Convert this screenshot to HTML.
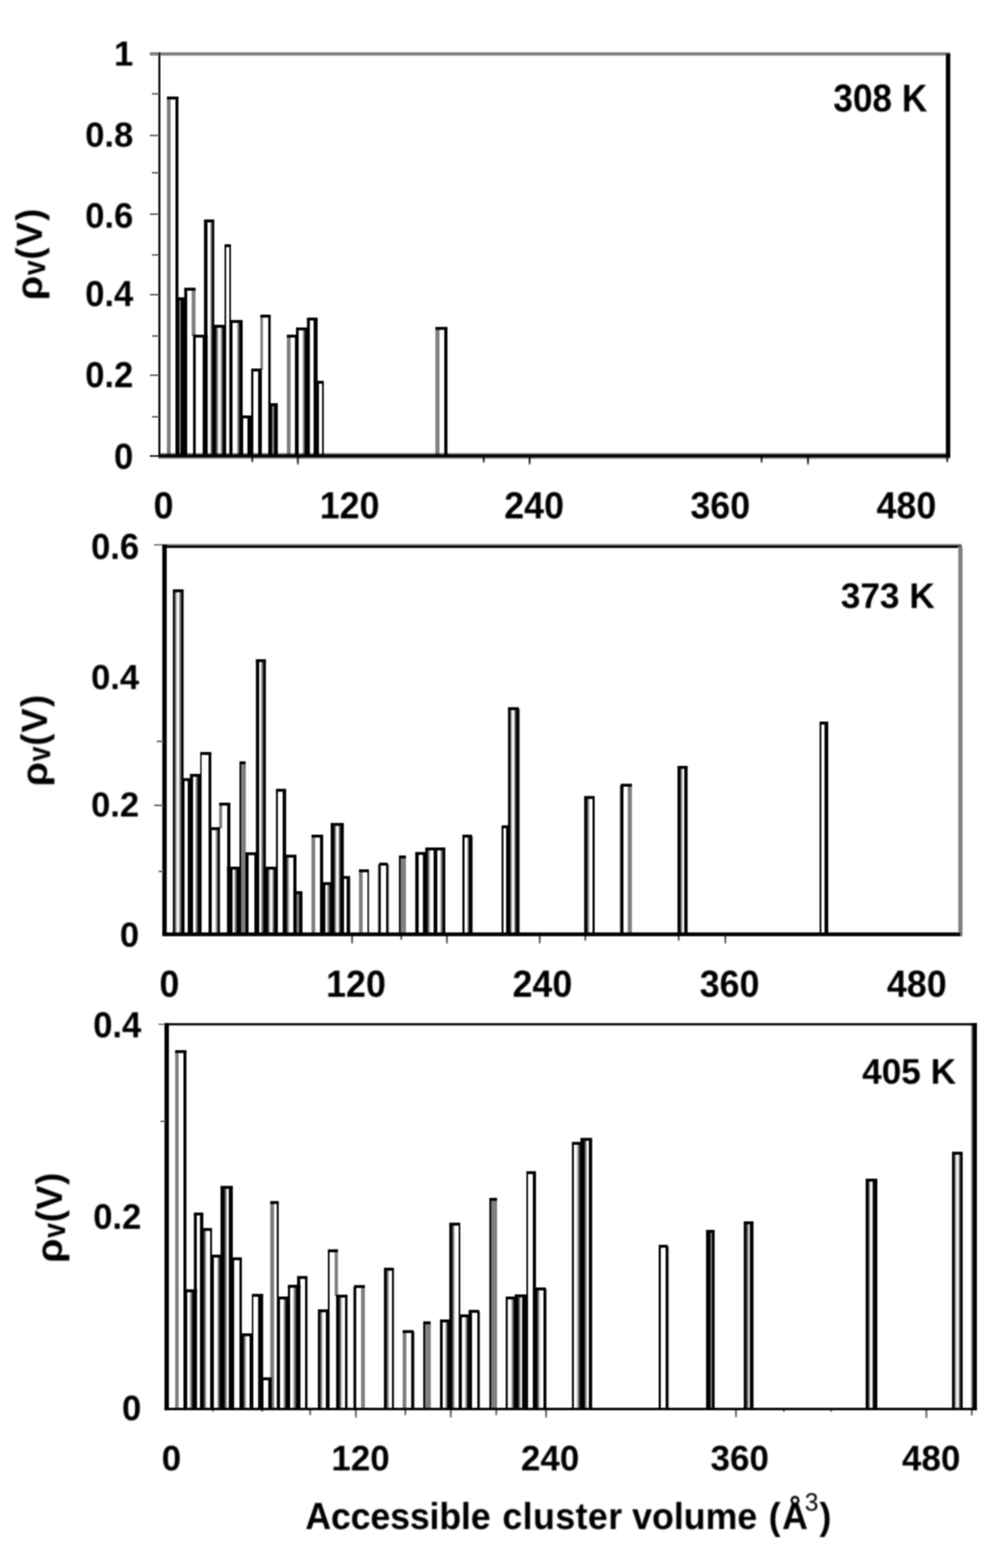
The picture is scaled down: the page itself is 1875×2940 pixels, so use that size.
<!DOCTYPE html>
<html lang="en">
<head>
<meta charset="utf-8">
<title>Accessible cluster volume distributions</title>
<style>
html,body{margin:0;padding:0;background:#fff;}
body{width:1875px;height:2940px;overflow:hidden;}
svg{display:block;}
text{font-family:"Liberation Sans",sans-serif;font-weight:bold;fill:#000;}
</style>
</head>
<body>
<svg width="1875" height="2940" viewBox="0 0 1875 2940">
<defs>
<filter id="soft" filterUnits="userSpaceOnUse" x="0" y="0" width="1875" height="2940"><feGaussianBlur stdDeviation="0.9"/></filter>
<filter id="softt" filterUnits="userSpaceOnUse" x="0" y="0" width="1875" height="2940"><feGaussianBlur stdDeviation="1.5"/></filter>
<linearGradient id="g1" gradientUnits="userSpaceOnUse" x1="312.9" y1="0" x2="334.6" y2="0"><stop offset="0" stop-color="#000" stop-opacity="0.5"/><stop offset="0.33" stop-color="#000" stop-opacity="0.5"/><stop offset="0.33" stop-color="#000" stop-opacity="0"/><stop offset="0.72" stop-color="#000" stop-opacity="0"/><stop offset="0.72" stop-color="#000" stop-opacity="1"/><stop offset="1" stop-color="#000" stop-opacity="1"/></linearGradient>
<linearGradient id="g2" gradientUnits="userSpaceOnUse" x1="329" y1="0" x2="350.3" y2="0"><stop offset="0" stop-color="#000" stop-opacity="1"/><stop offset="0.31" stop-color="#000" stop-opacity="1"/><stop offset="0.31" stop-color="#000" stop-opacity="0.5"/><stop offset="0.49" stop-color="#000" stop-opacity="0.5"/><stop offset="0.49" stop-color="#000" stop-opacity="1"/><stop offset="1" stop-color="#000" stop-opacity="1"/></linearGradient>
<linearGradient id="g3" gradientUnits="userSpaceOnUse" x1="345.5" y1="0" x2="366.6" y2="0"><stop offset="0" stop-color="#000" stop-opacity="1"/><stop offset="0.26" stop-color="#000" stop-opacity="1"/><stop offset="0.26" stop-color="#000" stop-opacity="0"/><stop offset="0.66" stop-color="#000" stop-opacity="0"/><stop offset="1" stop-color="#000" stop-opacity="0"/></linearGradient>
<linearGradient id="g4" gradientUnits="userSpaceOnUse" x1="362" y1="0" x2="389.4" y2="0"><stop offset="0" stop-color="#000" stop-opacity="1"/><stop offset="0.18" stop-color="#000" stop-opacity="1"/><stop offset="0.18" stop-color="#000" stop-opacity="0"/><stop offset="0.64" stop-color="#000" stop-opacity="0"/><stop offset="0.64" stop-color="#000" stop-opacity="1"/><stop offset="1" stop-color="#000" stop-opacity="1"/></linearGradient>
<linearGradient id="g5" gradientUnits="userSpaceOnUse" x1="382.5" y1="0" x2="401.75" y2="0"><stop offset="0" stop-color="#000" stop-opacity="1"/><stop offset="0.36" stop-color="#000" stop-opacity="1"/><stop offset="0.36" stop-color="#000" stop-opacity="0"/><stop offset="0.56" stop-color="#000" stop-opacity="0"/><stop offset="0.84" stop-color="#000" stop-opacity="1"/><stop offset="1" stop-color="#000" stop-opacity="1"/></linearGradient>
<linearGradient id="g6" gradientUnits="userSpaceOnUse" x1="398.75" y1="0" x2="423.75" y2="0"><stop offset="0" stop-color="#000" stop-opacity="1"/><stop offset="0.21" stop-color="#000" stop-opacity="1"/><stop offset="0.47" stop-color="#000" stop-opacity="0"/><stop offset="0.55" stop-color="#000" stop-opacity="0"/><stop offset="0.8" stop-color="#000" stop-opacity="1"/><stop offset="1" stop-color="#000" stop-opacity="1"/></linearGradient>
<linearGradient id="g7" gradientUnits="userSpaceOnUse" x1="421" y1="0" x2="433" y2="0"><stop offset="0" stop-color="#000" stop-opacity="1"/><stop offset="0.28" stop-color="#000" stop-opacity="1"/><stop offset="0.28" stop-color="#000" stop-opacity="0"/><stop offset="0.72" stop-color="#000" stop-opacity="0"/><stop offset="0.72" stop-color="#000" stop-opacity="1"/><stop offset="1" stop-color="#000" stop-opacity="1"/></linearGradient>
<linearGradient id="g8" gradientUnits="userSpaceOnUse" x1="430" y1="0" x2="455" y2="0"><stop offset="0" stop-color="#000" stop-opacity="1"/><stop offset="0.25" stop-color="#000" stop-opacity="1"/><stop offset="0.25" stop-color="#000" stop-opacity="0"/><stop offset="0.53" stop-color="#000" stop-opacity="0"/><stop offset="0.8" stop-color="#000" stop-opacity="1"/><stop offset="1" stop-color="#000" stop-opacity="1"/></linearGradient>
<linearGradient id="g9" gradientUnits="userSpaceOnUse" x1="452.5" y1="0" x2="474.4" y2="0"><stop offset="0" stop-color="#000" stop-opacity="1"/><stop offset="0.14" stop-color="#000" stop-opacity="1"/><stop offset="0.14" stop-color="#000" stop-opacity="0"/><stop offset="0.54" stop-color="#000" stop-opacity="0"/><stop offset="0.54" stop-color="#000" stop-opacity="1"/><stop offset="1" stop-color="#000" stop-opacity="1"/></linearGradient>
<linearGradient id="g10" gradientUnits="userSpaceOnUse" x1="471" y1="0" x2="491" y2="0"><stop offset="0" stop-color="#000" stop-opacity="1"/><stop offset="0.18" stop-color="#000" stop-opacity="1"/><stop offset="0.18" stop-color="#000" stop-opacity="0"/><stop offset="0.66" stop-color="#000" stop-opacity="0"/><stop offset="0.66" stop-color="#000" stop-opacity="1"/><stop offset="1" stop-color="#000" stop-opacity="1"/></linearGradient>
<linearGradient id="g11" gradientUnits="userSpaceOnUse" x1="488.15" y1="0" x2="507.5" y2="0"><stop offset="0" stop-color="#000" stop-opacity="0"/><stop offset="0.26" stop-color="#000" stop-opacity="0"/><stop offset="0.75" stop-color="#000" stop-opacity="0"/><stop offset="0.75" stop-color="#000" stop-opacity="1"/><stop offset="1" stop-color="#000" stop-opacity="1"/></linearGradient>
<linearGradient id="g12" gradientUnits="userSpaceOnUse" x1="505.5" y1="0" x2="520.9" y2="0"><stop offset="0" stop-color="#000" stop-opacity="1"/><stop offset="0.29" stop-color="#000" stop-opacity="1"/><stop offset="0.29" stop-color="#000" stop-opacity="0.5"/><stop offset="0.55" stop-color="#000" stop-opacity="0.5"/><stop offset="0.55" stop-color="#000" stop-opacity="1"/><stop offset="1" stop-color="#000" stop-opacity="1"/></linearGradient>
<linearGradient id="g13" gradientUnits="userSpaceOnUse" x1="537.8" y1="0" x2="558.75" y2="0"><stop offset="0" stop-color="#000" stop-opacity="0.5"/><stop offset="0.32" stop-color="#000" stop-opacity="0.5"/><stop offset="0.32" stop-color="#000" stop-opacity="0"/><stop offset="0.74" stop-color="#000" stop-opacity="0"/><stop offset="0.74" stop-color="#000" stop-opacity="1"/><stop offset="1" stop-color="#000" stop-opacity="1"/></linearGradient>
<linearGradient id="g14" gradientUnits="userSpaceOnUse" x1="555" y1="0" x2="580.25" y2="0"><stop offset="0" stop-color="#000" stop-opacity="1"/><stop offset="0.19" stop-color="#000" stop-opacity="1"/><stop offset="0.19" stop-color="#000" stop-opacity="0"/><stop offset="0.45" stop-color="#000" stop-opacity="0"/><stop offset="0.7" stop-color="#000" stop-opacity="1"/><stop offset="1" stop-color="#000" stop-opacity="1"/></linearGradient>
<linearGradient id="g15" gradientUnits="userSpaceOnUse" x1="575.5" y1="0" x2="595.5" y2="0"><stop offset="0" stop-color="#000" stop-opacity="1"/><stop offset="0.28" stop-color="#000" stop-opacity="1"/><stop offset="0.28" stop-color="#000" stop-opacity="0"/><stop offset="0.64" stop-color="#000" stop-opacity="0"/><stop offset="0.64" stop-color="#000" stop-opacity="1"/><stop offset="1" stop-color="#000" stop-opacity="1"/></linearGradient>
<linearGradient id="g16" gradientUnits="userSpaceOnUse" x1="592.5" y1="0" x2="607.1" y2="0"><stop offset="0" stop-color="#000" stop-opacity="1"/><stop offset="0.41" stop-color="#000" stop-opacity="1"/><stop offset="0.41" stop-color="#000" stop-opacity="0"/><stop offset="0.77" stop-color="#000" stop-opacity="0"/><stop offset="0.77" stop-color="#000" stop-opacity="1"/><stop offset="1" stop-color="#000" stop-opacity="1"/></linearGradient>
<linearGradient id="g17" gradientUnits="userSpaceOnUse" x1="816.4" y1="0" x2="839" y2="0"><stop offset="0" stop-color="#000" stop-opacity="0.5"/><stop offset="0.34" stop-color="#000" stop-opacity="0.5"/><stop offset="0.34" stop-color="#000" stop-opacity="0"/><stop offset="0.72" stop-color="#000" stop-opacity="0"/><stop offset="0.72" stop-color="#000" stop-opacity="1"/><stop offset="1" stop-color="#000" stop-opacity="1"/></linearGradient>
<linearGradient id="g18" gradientUnits="userSpaceOnUse" x1="0" y1="848.3" x2="0" y2="861.4"><stop offset="0" stop-color="#000" stop-opacity="0"/><stop offset="0.37" stop-color="#000" stop-opacity="1"/><stop offset="0.61" stop-color="#000" stop-opacity="1"/><stop offset="1" stop-color="#000" stop-opacity="0"/></linearGradient>
<linearGradient id="g19" gradientUnits="userSpaceOnUse" x1="0" y1="856" x2="0" y2="868"><stop offset="0" stop-color="#000" stop-opacity="0.85"/><stop offset="0.7" stop-color="#000" stop-opacity="0.75"/><stop offset="1" stop-color="#000" stop-opacity="0"/></linearGradient>
<linearGradient id="g20" gradientUnits="userSpaceOnUse" x1="0" y1="856" x2="0" y2="873"><stop offset="0" stop-color="#000" stop-opacity="0.85"/><stop offset="0.7" stop-color="#000" stop-opacity="0.75"/><stop offset="1" stop-color="#000" stop-opacity="0"/></linearGradient>
<linearGradient id="g21" gradientUnits="userSpaceOnUse" x1="0" y1="856" x2="0" y2="869"><stop offset="0" stop-color="#000" stop-opacity="0.85"/><stop offset="0.7" stop-color="#000" stop-opacity="0.75"/><stop offset="1" stop-color="#000" stop-opacity="0"/></linearGradient>
<linearGradient id="g22" gradientUnits="userSpaceOnUse" x1="0" y1="856" x2="0" y2="873"><stop offset="0" stop-color="#000" stop-opacity="0.85"/><stop offset="0.7" stop-color="#000" stop-opacity="0.75"/><stop offset="1" stop-color="#000" stop-opacity="0"/></linearGradient>
<linearGradient id="g23" gradientUnits="userSpaceOnUse" x1="0" y1="856" x2="0" y2="869"><stop offset="0" stop-color="#000" stop-opacity="0.85"/><stop offset="0.7" stop-color="#000" stop-opacity="0.75"/><stop offset="1" stop-color="#000" stop-opacity="0"/></linearGradient>
<linearGradient id="g24" gradientUnits="userSpaceOnUse" x1="0" y1="856" x2="0" y2="873"><stop offset="0" stop-color="#000" stop-opacity="0.85"/><stop offset="0.7" stop-color="#000" stop-opacity="0.75"/><stop offset="1" stop-color="#000" stop-opacity="0"/></linearGradient>
<linearGradient id="g25" gradientUnits="userSpaceOnUse" x1="0" y1="856" x2="0" y2="868"><stop offset="0" stop-color="#000" stop-opacity="0.85"/><stop offset="0.7" stop-color="#000" stop-opacity="0.75"/><stop offset="1" stop-color="#000" stop-opacity="0"/></linearGradient>
<linearGradient id="g26" gradientUnits="userSpaceOnUse" x1="324.1" y1="0" x2="344.2" y2="0"><stop offset="0" stop-color="#000" stop-opacity="1"/><stop offset="0.1" stop-color="#000" stop-opacity="1"/><stop offset="0.42" stop-color="#000" stop-opacity="0"/><stop offset="0.51" stop-color="#000" stop-opacity="0"/><stop offset="0.86" stop-color="#000" stop-opacity="1"/><stop offset="1" stop-color="#000" stop-opacity="1"/></linearGradient>
<linearGradient id="g27" gradientUnits="userSpaceOnUse" x1="341" y1="0" x2="361.9" y2="0"><stop offset="0" stop-color="#000" stop-opacity="1"/><stop offset="0.24" stop-color="#000" stop-opacity="1"/><stop offset="0.24" stop-color="#000" stop-opacity="0"/><stop offset="0.54" stop-color="#000" stop-opacity="0"/><stop offset="0.54" stop-color="#000" stop-opacity="1"/><stop offset="1" stop-color="#000" stop-opacity="1"/></linearGradient>
<linearGradient id="g28" gradientUnits="userSpaceOnUse" x1="356" y1="0" x2="377.5" y2="0"><stop offset="0" stop-color="#000" stop-opacity="1"/><stop offset="0.28" stop-color="#000" stop-opacity="1"/><stop offset="0.28" stop-color="#000" stop-opacity="0"/><stop offset="0.43" stop-color="#000" stop-opacity="0"/><stop offset="0.74" stop-color="#000" stop-opacity="1"/><stop offset="1" stop-color="#000" stop-opacity="1"/></linearGradient>
<linearGradient id="g29" gradientUnits="userSpaceOnUse" x1="375.5" y1="0" x2="396.25" y2="0"><stop offset="0" stop-color="#000" stop-opacity="1"/><stop offset="0.12" stop-color="#000" stop-opacity="1"/><stop offset="0.12" stop-color="#000" stop-opacity="0"/><stop offset="0.73" stop-color="#000" stop-opacity="0"/><stop offset="0.73" stop-color="#000" stop-opacity="1"/><stop offset="1" stop-color="#000" stop-opacity="1"/></linearGradient>
<linearGradient id="g30" gradientUnits="userSpaceOnUse" x1="392.25" y1="0" x2="412.5" y2="0"><stop offset="0" stop-color="#000" stop-opacity="1"/><stop offset="0.22" stop-color="#000" stop-opacity="1"/><stop offset="0.22" stop-color="#000" stop-opacity="0"/><stop offset="0.53" stop-color="#000" stop-opacity="0"/><stop offset="0.88" stop-color="#000" stop-opacity="1"/><stop offset="1" stop-color="#000" stop-opacity="1"/></linearGradient>
<linearGradient id="g31" gradientUnits="userSpaceOnUse" x1="410.9" y1="0" x2="432" y2="0"><stop offset="0" stop-color="#000" stop-opacity="0"/><stop offset="0.27" stop-color="#000" stop-opacity="0"/><stop offset="0.71" stop-color="#000" stop-opacity="0"/><stop offset="0.71" stop-color="#000" stop-opacity="1"/><stop offset="1" stop-color="#000" stop-opacity="1"/></linearGradient>
<linearGradient id="g32" gradientUnits="userSpaceOnUse" x1="425.6" y1="0" x2="451.25" y2="0"><stop offset="0" stop-color="#000" stop-opacity="1"/><stop offset="0.39" stop-color="#000" stop-opacity="1"/><stop offset="0.39" stop-color="#000" stop-opacity="0"/><stop offset="0.49" stop-color="#000" stop-opacity="0"/><stop offset="0.76" stop-color="#000" stop-opacity="1"/><stop offset="1" stop-color="#000" stop-opacity="1"/></linearGradient>
<linearGradient id="g33" gradientUnits="userSpaceOnUse" x1="449" y1="0" x2="460.5" y2="0"><stop offset="0" stop-color="#000" stop-opacity="1"/><stop offset="0.26" stop-color="#000" stop-opacity="1"/><stop offset="0.26" stop-color="#000" stop-opacity="0.5"/><stop offset="0.99" stop-color="#000" stop-opacity="0.5"/><stop offset="0.99" stop-color="#000" stop-opacity="1"/><stop offset="1" stop-color="#000" stop-opacity="1"/></linearGradient>
<linearGradient id="g34" gradientUnits="userSpaceOnUse" x1="460.2" y1="0" x2="485.7" y2="0"><stop offset="0" stop-color="#000" stop-opacity="1"/><stop offset="0.24" stop-color="#000" stop-opacity="1"/><stop offset="0.24" stop-color="#000" stop-opacity="0"/><stop offset="0.65" stop-color="#000" stop-opacity="0"/><stop offset="0.65" stop-color="#000" stop-opacity="1"/><stop offset="1" stop-color="#000" stop-opacity="1"/></linearGradient>
<linearGradient id="g35" gradientUnits="userSpaceOnUse" x1="479.75" y1="0" x2="498.5" y2="0"><stop offset="0" stop-color="#000" stop-opacity="1"/><stop offset="0.33" stop-color="#000" stop-opacity="1"/><stop offset="0.33" stop-color="#000" stop-opacity="0"/><stop offset="0.45" stop-color="#000" stop-opacity="0"/><stop offset="0.81" stop-color="#000" stop-opacity="1"/><stop offset="1" stop-color="#000" stop-opacity="1"/></linearGradient>
<linearGradient id="g36" gradientUnits="userSpaceOnUse" x1="495.25" y1="0" x2="520.9" y2="0"><stop offset="0" stop-color="#000" stop-opacity="1"/><stop offset="0.24" stop-color="#000" stop-opacity="1"/><stop offset="0.47" stop-color="#000" stop-opacity="0"/><stop offset="0.55" stop-color="#000" stop-opacity="0"/><stop offset="0.77" stop-color="#000" stop-opacity="1"/><stop offset="1" stop-color="#000" stop-opacity="1"/></linearGradient>
<linearGradient id="g37" gradientUnits="userSpaceOnUse" x1="517.5" y1="0" x2="536.5" y2="0"><stop offset="0" stop-color="#000" stop-opacity="1"/><stop offset="0.2" stop-color="#000" stop-opacity="1"/><stop offset="0.2" stop-color="#000" stop-opacity="0"/><stop offset="0.67" stop-color="#000" stop-opacity="0"/><stop offset="0.67" stop-color="#000" stop-opacity="1"/><stop offset="1" stop-color="#000" stop-opacity="1"/></linearGradient>
<linearGradient id="g38" gradientUnits="userSpaceOnUse" x1="534.75" y1="0" x2="555.9" y2="0"><stop offset="0" stop-color="#000" stop-opacity="1"/><stop offset="0.08" stop-color="#000" stop-opacity="1"/><stop offset="0.4" stop-color="#000" stop-opacity="0"/><stop offset="0.7" stop-color="#000" stop-opacity="0"/><stop offset="0.7" stop-color="#000" stop-opacity="1"/><stop offset="1" stop-color="#000" stop-opacity="1"/></linearGradient>
<linearGradient id="g39" gradientUnits="userSpaceOnUse" x1="552.5" y1="0" x2="567.1" y2="0"><stop offset="0" stop-color="#000" stop-opacity="1"/><stop offset="0.26" stop-color="#000" stop-opacity="1"/><stop offset="0.26" stop-color="#000" stop-opacity="0.5"/><stop offset="0.56" stop-color="#000" stop-opacity="0.5"/><stop offset="0.56" stop-color="#000" stop-opacity="1"/><stop offset="1" stop-color="#000" stop-opacity="1"/></linearGradient>
<linearGradient id="g40" gradientUnits="userSpaceOnUse" x1="584" y1="0" x2="606" y2="0"><stop offset="0" stop-color="#000" stop-opacity="0.5"/><stop offset="0.34" stop-color="#000" stop-opacity="0.5"/><stop offset="0.34" stop-color="#000" stop-opacity="0"/><stop offset="0.71" stop-color="#000" stop-opacity="0"/><stop offset="0.71" stop-color="#000" stop-opacity="1"/><stop offset="1" stop-color="#000" stop-opacity="1"/></linearGradient>
<linearGradient id="g41" gradientUnits="userSpaceOnUse" x1="601.5" y1="0" x2="621.5" y2="0"><stop offset="0" stop-color="#000" stop-opacity="1"/><stop offset="0.41" stop-color="#000" stop-opacity="1"/><stop offset="0.41" stop-color="#000" stop-opacity="0"/><stop offset="0.52" stop-color="#000" stop-opacity="0"/><stop offset="0.91" stop-color="#000" stop-opacity="1"/><stop offset="1" stop-color="#000" stop-opacity="1"/></linearGradient>
<linearGradient id="g42" gradientUnits="userSpaceOnUse" x1="620" y1="0" x2="644.6" y2="0"><stop offset="0" stop-color="#000" stop-opacity="1"/><stop offset="0.24" stop-color="#000" stop-opacity="1"/><stop offset="0.47" stop-color="#000" stop-opacity="0"/><stop offset="0.55" stop-color="#000" stop-opacity="0"/><stop offset="0.77" stop-color="#000" stop-opacity="1"/><stop offset="1" stop-color="#000" stop-opacity="1"/></linearGradient>
<linearGradient id="g43" gradientUnits="userSpaceOnUse" x1="642.25" y1="0" x2="656.5" y2="0"><stop offset="0" stop-color="#000" stop-opacity="1"/><stop offset="0.2" stop-color="#000" stop-opacity="1"/><stop offset="0.2" stop-color="#000" stop-opacity="0"/><stop offset="0.56" stop-color="#000" stop-opacity="0"/><stop offset="0.56" stop-color="#000" stop-opacity="1"/><stop offset="1" stop-color="#000" stop-opacity="1"/></linearGradient>
<linearGradient id="g44" gradientUnits="userSpaceOnUse" x1="673" y1="0" x2="691.75" y2="0"><stop offset="0" stop-color="#000" stop-opacity="0.5"/><stop offset="0.4" stop-color="#000" stop-opacity="0.5"/><stop offset="0.4" stop-color="#000" stop-opacity="0"/><stop offset="0.85" stop-color="#000" stop-opacity="0"/><stop offset="0.85" stop-color="#000" stop-opacity="1"/><stop offset="1" stop-color="#000" stop-opacity="1"/></linearGradient>
<linearGradient id="g45" gradientUnits="userSpaceOnUse" x1="707.5" y1="0" x2="730.45" y2="0"><stop offset="0" stop-color="#000" stop-opacity="0"/><stop offset="0.15" stop-color="#000" stop-opacity="1"/><stop offset="0.29" stop-color="#000" stop-opacity="1"/><stop offset="0.29" stop-color="#000" stop-opacity="0"/><stop offset="0.72" stop-color="#000" stop-opacity="0"/><stop offset="0.72" stop-color="#000" stop-opacity="1"/><stop offset="0.84" stop-color="#000" stop-opacity="1"/><stop offset="1" stop-color="#000" stop-opacity="0"/></linearGradient>
<linearGradient id="g46" gradientUnits="userSpaceOnUse" x1="748" y1="0" x2="761.1" y2="0"><stop offset="0" stop-color="#000" stop-opacity="1"/><stop offset="0.24" stop-color="#000" stop-opacity="1"/><stop offset="0.24" stop-color="#000" stop-opacity="0.5"/><stop offset="0.99" stop-color="#000" stop-opacity="0.5"/><stop offset="0.99" stop-color="#000" stop-opacity="1"/><stop offset="1" stop-color="#000" stop-opacity="1"/></linearGradient>
<linearGradient id="g47" gradientUnits="userSpaceOnUse" x1="778.6" y1="0" x2="800.5" y2="0"><stop offset="0" stop-color="#000" stop-opacity="1"/><stop offset="0.29" stop-color="#000" stop-opacity="1"/><stop offset="0.29" stop-color="#000" stop-opacity="0"/><stop offset="0.68" stop-color="#000" stop-opacity="0"/><stop offset="0.68" stop-color="#000" stop-opacity="1"/><stop offset="1" stop-color="#000" stop-opacity="1"/></linearGradient>
<linearGradient id="g48" gradientUnits="userSpaceOnUse" x1="797.5" y1="0" x2="819.25" y2="0"><stop offset="0" stop-color="#000" stop-opacity="1"/><stop offset="0.14" stop-color="#000" stop-opacity="1"/><stop offset="0.45" stop-color="#000" stop-opacity="0"/><stop offset="0.71" stop-color="#000" stop-opacity="0"/><stop offset="0.71" stop-color="#000" stop-opacity="1"/><stop offset="1" stop-color="#000" stop-opacity="1"/></linearGradient>
<linearGradient id="g49" gradientUnits="userSpaceOnUse" x1="816" y1="0" x2="834.9" y2="0"><stop offset="0" stop-color="#000" stop-opacity="1"/><stop offset="0.19" stop-color="#000" stop-opacity="1"/><stop offset="0.19" stop-color="#000" stop-opacity="0"/><stop offset="0.45" stop-color="#000" stop-opacity="0"/><stop offset="0.8" stop-color="#000" stop-opacity="1"/><stop offset="1" stop-color="#000" stop-opacity="1"/></linearGradient>
<linearGradient id="g50" gradientUnits="userSpaceOnUse" x1="867" y1="0" x2="887" y2="0"><stop offset="0" stop-color="#000" stop-opacity="1"/><stop offset="0.19" stop-color="#000" stop-opacity="1"/><stop offset="0.19" stop-color="#000" stop-opacity="0"/><stop offset="0.42" stop-color="#000" stop-opacity="0"/><stop offset="0.65" stop-color="#000" stop-opacity="1"/><stop offset="0.9" stop-color="#000" stop-opacity="1"/><stop offset="1" stop-color="#000" stop-opacity="0"/></linearGradient>
<linearGradient id="g51" gradientUnits="userSpaceOnUse" x1="940.5" y1="0" x2="954.5" y2="0"><stop offset="0" stop-color="#000" stop-opacity="1"/><stop offset="0.24" stop-color="#000" stop-opacity="1"/><stop offset="0.24" stop-color="#000" stop-opacity="0"/><stop offset="0.61" stop-color="#000" stop-opacity="0"/><stop offset="0.61" stop-color="#000" stop-opacity="1"/><stop offset="1" stop-color="#000" stop-opacity="1"/></linearGradient>
<linearGradient id="g52" gradientUnits="userSpaceOnUse" x1="952.5" y1="0" x2="975.6" y2="0"><stop offset="0" stop-color="#000" stop-opacity="1"/><stop offset="0.13" stop-color="#000" stop-opacity="1"/><stop offset="0.36" stop-color="#000" stop-opacity="0"/><stop offset="0.45" stop-color="#000" stop-opacity="0"/><stop offset="0.68" stop-color="#000" stop-opacity="1"/><stop offset="0.87" stop-color="#000" stop-opacity="1"/><stop offset="1" stop-color="#000" stop-opacity="0"/></linearGradient>
<linearGradient id="g53" gradientUnits="userSpaceOnUse" x1="1095.3" y1="0" x2="1115" y2="0"><stop offset="0" stop-color="#000" stop-opacity="1"/><stop offset="0.22" stop-color="#000" stop-opacity="1"/><stop offset="0.55" stop-color="#000" stop-opacity="0"/><stop offset="0.78" stop-color="#000" stop-opacity="0"/><stop offset="0.78" stop-color="#000" stop-opacity="1"/><stop offset="1" stop-color="#000" stop-opacity="1"/></linearGradient>
<linearGradient id="g54" gradientUnits="userSpaceOnUse" x1="1161.4" y1="0" x2="1184.9" y2="0"><stop offset="0" stop-color="#000" stop-opacity="0"/><stop offset="0.11" stop-color="#000" stop-opacity="1"/><stop offset="0.32" stop-color="#000" stop-opacity="1"/><stop offset="0.32" stop-color="#000" stop-opacity="0"/><stop offset="0.67" stop-color="#000" stop-opacity="0"/><stop offset="0.67" stop-color="#000" stop-opacity="0.5"/><stop offset="1" stop-color="#000" stop-opacity="0.5"/></linearGradient>
<linearGradient id="g55" gradientUnits="userSpaceOnUse" x1="1270.3" y1="0" x2="1289.3" y2="0"><stop offset="0" stop-color="#000" stop-opacity="1"/><stop offset="0.23" stop-color="#000" stop-opacity="1"/><stop offset="0.54" stop-color="#000" stop-opacity="0"/><stop offset="0.64" stop-color="#000" stop-opacity="0"/><stop offset="0.69" stop-color="#000" stop-opacity="1"/><stop offset="1" stop-color="#000" stop-opacity="1"/></linearGradient>
<linearGradient id="g56" gradientUnits="userSpaceOnUse" x1="1536.75" y1="0" x2="1553" y2="0"><stop offset="0" stop-color="#000" stop-opacity="1"/><stop offset="0.23" stop-color="#000" stop-opacity="1"/><stop offset="0.23" stop-color="#000" stop-opacity="0"/><stop offset="0.54" stop-color="#000" stop-opacity="0"/><stop offset="0.54" stop-color="#000" stop-opacity="1"/><stop offset="1" stop-color="#000" stop-opacity="1"/></linearGradient>
<linearGradient id="g57" gradientUnits="userSpaceOnUse" x1="0" y1="1018.8" x2="0" y2="1027.4"><stop offset="0" stop-color="#000" stop-opacity="0"/><stop offset="0.64" stop-color="#000" stop-opacity="1"/><stop offset="1" stop-color="#000" stop-opacity="1"/></linearGradient>
<linearGradient id="g58" gradientUnits="userSpaceOnUse" x1="0" y1="1755" x2="0" y2="1771"><stop offset="0" stop-color="#000" stop-opacity="0.7"/><stop offset="0.75" stop-color="#000" stop-opacity="0.6"/><stop offset="1" stop-color="#000" stop-opacity="0"/></linearGradient>
<linearGradient id="g59" gradientUnits="userSpaceOnUse" x1="0" y1="1755" x2="0" y2="1763"><stop offset="0" stop-color="#000" stop-opacity="0.7"/><stop offset="0.75" stop-color="#000" stop-opacity="0.6"/><stop offset="1" stop-color="#000" stop-opacity="0"/></linearGradient>
<linearGradient id="g60" gradientUnits="userSpaceOnUse" x1="0" y1="1755" x2="0" y2="1771"><stop offset="0" stop-color="#000" stop-opacity="0.7"/><stop offset="0.75" stop-color="#000" stop-opacity="0.6"/><stop offset="1" stop-color="#000" stop-opacity="0"/></linearGradient>
<linearGradient id="g61" gradientUnits="userSpaceOnUse" x1="0" y1="1755" x2="0" y2="1771"><stop offset="0" stop-color="#000" stop-opacity="0.7"/><stop offset="0.75" stop-color="#000" stop-opacity="0.6"/><stop offset="1" stop-color="#000" stop-opacity="0"/></linearGradient>
<linearGradient id="g62" gradientUnits="userSpaceOnUse" x1="0" y1="1755" x2="0" y2="1765"><stop offset="0" stop-color="#000" stop-opacity="0.7"/><stop offset="0.75" stop-color="#000" stop-opacity="0.6"/><stop offset="1" stop-color="#000" stop-opacity="0"/></linearGradient>
<linearGradient id="g63" gradientUnits="userSpaceOnUse" x1="0" y1="1755" x2="0" y2="1765"><stop offset="0" stop-color="#000" stop-opacity="0.7"/><stop offset="0.75" stop-color="#000" stop-opacity="0.6"/><stop offset="1" stop-color="#000" stop-opacity="0"/></linearGradient>
<linearGradient id="g64" gradientUnits="userSpaceOnUse" x1="0" y1="1755" x2="0" y2="1771"><stop offset="0" stop-color="#000" stop-opacity="0.7"/><stop offset="0.75" stop-color="#000" stop-opacity="0.6"/><stop offset="1" stop-color="#000" stop-opacity="0"/></linearGradient>
<linearGradient id="g65" gradientUnits="userSpaceOnUse" x1="328.4" y1="0" x2="349.6" y2="0"><stop offset="0" stop-color="#000" stop-opacity="0.5"/><stop offset="0.31" stop-color="#000" stop-opacity="0.5"/><stop offset="0.31" stop-color="#000" stop-opacity="0"/><stop offset="0.75" stop-color="#000" stop-opacity="0"/><stop offset="0.75" stop-color="#000" stop-opacity="1"/><stop offset="1" stop-color="#000" stop-opacity="1"/></linearGradient>
<linearGradient id="g66" gradientUnits="userSpaceOnUse" x1="344.4" y1="0" x2="369.4" y2="0"><stop offset="0" stop-color="#000" stop-opacity="1"/><stop offset="0.25" stop-color="#000" stop-opacity="1"/><stop offset="0.25" stop-color="#000" stop-opacity="0"/><stop offset="0.42" stop-color="#000" stop-opacity="0"/><stop offset="0.7" stop-color="#000" stop-opacity="1"/><stop offset="1" stop-color="#000" stop-opacity="1"/></linearGradient>
<linearGradient id="g67" gradientUnits="userSpaceOnUse" x1="363.5" y1="0" x2="381.25" y2="0"><stop offset="0" stop-color="#000" stop-opacity="1"/><stop offset="0.33" stop-color="#000" stop-opacity="1"/><stop offset="0.33" stop-color="#000" stop-opacity="0"/><stop offset="0.65" stop-color="#000" stop-opacity="0"/><stop offset="0.65" stop-color="#000" stop-opacity="1"/><stop offset="1" stop-color="#000" stop-opacity="1"/></linearGradient>
<linearGradient id="g68" gradientUnits="userSpaceOnUse" x1="376" y1="0" x2="397.5" y2="0"><stop offset="0" stop-color="#000" stop-opacity="1"/><stop offset="0.24" stop-color="#000" stop-opacity="1"/><stop offset="0.56" stop-color="#000" stop-opacity="0"/><stop offset="0.83" stop-color="#000" stop-opacity="0"/><stop offset="0.83" stop-color="#000" stop-opacity="1"/><stop offset="1" stop-color="#000" stop-opacity="1"/></linearGradient>
<linearGradient id="g69" gradientUnits="userSpaceOnUse" x1="395.5" y1="0" x2="420" y2="0"><stop offset="0" stop-color="#000" stop-opacity="1"/><stop offset="0.21" stop-color="#000" stop-opacity="1"/><stop offset="0.21" stop-color="#000" stop-opacity="0"/><stop offset="0.45" stop-color="#000" stop-opacity="0"/><stop offset="0.71" stop-color="#000" stop-opacity="1"/><stop offset="1" stop-color="#000" stop-opacity="1"/></linearGradient>
<linearGradient id="g70" gradientUnits="userSpaceOnUse" x1="413.5" y1="0" x2="436.5" y2="0"><stop offset="0" stop-color="#000" stop-opacity="1"/><stop offset="0.28" stop-color="#000" stop-opacity="1"/><stop offset="0.58" stop-color="#000" stop-opacity="0"/><stop offset="0.66" stop-color="#000" stop-opacity="0"/><stop offset="0.66" stop-color="#000" stop-opacity="1"/><stop offset="1" stop-color="#000" stop-opacity="1"/></linearGradient>
<linearGradient id="g71" gradientUnits="userSpaceOnUse" x1="431" y1="0" x2="453.5" y2="0"><stop offset="0" stop-color="#000" stop-opacity="1"/><stop offset="0.37" stop-color="#000" stop-opacity="1"/><stop offset="0.37" stop-color="#000" stop-opacity="0"/><stop offset="0.79" stop-color="#000" stop-opacity="0"/><stop offset="0.79" stop-color="#000" stop-opacity="1"/><stop offset="1" stop-color="#000" stop-opacity="1"/></linearGradient>
<linearGradient id="g72" gradientUnits="userSpaceOnUse" x1="450.5" y1="0" x2="475" y2="0"><stop offset="0" stop-color="#000" stop-opacity="1"/><stop offset="0.21" stop-color="#000" stop-opacity="1"/><stop offset="0.49" stop-color="#000" stop-opacity="0"/><stop offset="0.71" stop-color="#000" stop-opacity="0"/><stop offset="0.71" stop-color="#000" stop-opacity="1"/><stop offset="1" stop-color="#000" stop-opacity="1"/></linearGradient>
<linearGradient id="g73" gradientUnits="userSpaceOnUse" x1="472.25" y1="0" x2="493.4" y2="0"><stop offset="0" stop-color="#000" stop-opacity="1"/><stop offset="0.13" stop-color="#000" stop-opacity="1"/><stop offset="0.13" stop-color="#000" stop-opacity="0"/><stop offset="0.54" stop-color="#000" stop-opacity="0"/><stop offset="0.54" stop-color="#000" stop-opacity="1"/><stop offset="1" stop-color="#000" stop-opacity="1"/></linearGradient>
<linearGradient id="g74" gradientUnits="userSpaceOnUse" x1="488.5" y1="0" x2="509.6" y2="0"><stop offset="0" stop-color="#000" stop-opacity="1"/><stop offset="0.24" stop-color="#000" stop-opacity="1"/><stop offset="0.24" stop-color="#000" stop-opacity="0"/><stop offset="0.71" stop-color="#000" stop-opacity="0"/><stop offset="0.71" stop-color="#000" stop-opacity="1"/><stop offset="1" stop-color="#000" stop-opacity="1"/></linearGradient>
<linearGradient id="g75" gradientUnits="userSpaceOnUse" x1="506.65" y1="0" x2="522.5" y2="0"><stop offset="0" stop-color="#000" stop-opacity="0.5"/><stop offset="0.47" stop-color="#000" stop-opacity="0.5"/><stop offset="0.47" stop-color="#000" stop-opacity="0"/><stop offset="0.78" stop-color="#000" stop-opacity="0"/><stop offset="0.78" stop-color="#000" stop-opacity="1"/><stop offset="1" stop-color="#000" stop-opacity="1"/></linearGradient>
<linearGradient id="g76" gradientUnits="userSpaceOnUse" x1="519.75" y1="0" x2="544" y2="0"><stop offset="0" stop-color="#000" stop-opacity="1"/><stop offset="0.2" stop-color="#000" stop-opacity="1"/><stop offset="0.2" stop-color="#000" stop-opacity="0"/><stop offset="0.44" stop-color="#000" stop-opacity="0"/><stop offset="0.71" stop-color="#000" stop-opacity="1"/><stop offset="1" stop-color="#000" stop-opacity="1"/></linearGradient>
<linearGradient id="g77" gradientUnits="userSpaceOnUse" x1="539.75" y1="0" x2="563.4" y2="0"><stop offset="0" stop-color="#000" stop-opacity="1"/><stop offset="0.18" stop-color="#000" stop-opacity="1"/><stop offset="0.18" stop-color="#000" stop-opacity="0"/><stop offset="0.37" stop-color="#000" stop-opacity="0"/><stop offset="0.71" stop-color="#000" stop-opacity="1"/><stop offset="1" stop-color="#000" stop-opacity="1"/></linearGradient>
<linearGradient id="g78" gradientUnits="userSpaceOnUse" x1="557" y1="0" x2="576.5" y2="0"><stop offset="0" stop-color="#000" stop-opacity="1"/><stop offset="0.33" stop-color="#000" stop-opacity="1"/><stop offset="0.33" stop-color="#000" stop-opacity="0"/><stop offset="0.77" stop-color="#000" stop-opacity="0"/><stop offset="0.77" stop-color="#000" stop-opacity="1"/><stop offset="1" stop-color="#000" stop-opacity="1"/></linearGradient>
<linearGradient id="g79" gradientUnits="userSpaceOnUse" x1="596" y1="0" x2="617.75" y2="0"><stop offset="0" stop-color="#000" stop-opacity="1"/><stop offset="0.14" stop-color="#000" stop-opacity="1"/><stop offset="0.45" stop-color="#000" stop-opacity="0"/><stop offset="0.71" stop-color="#000" stop-opacity="0"/><stop offset="0.71" stop-color="#000" stop-opacity="1"/><stop offset="1" stop-color="#000" stop-opacity="1"/></linearGradient>
<linearGradient id="g80" gradientUnits="userSpaceOnUse" x1="614.75" y1="0" x2="633.6" y2="0"><stop offset="0" stop-color="#000" stop-opacity="1"/><stop offset="0.19" stop-color="#000" stop-opacity="1"/><stop offset="0.19" stop-color="#000" stop-opacity="0"/><stop offset="0.58" stop-color="#000" stop-opacity="0"/><stop offset="0.67" stop-color="#000" stop-opacity="0"/><stop offset="1" stop-color="#000" stop-opacity="0"/></linearGradient>
<linearGradient id="g81" gradientUnits="userSpaceOnUse" x1="630.25" y1="0" x2="651.5" y2="0"><stop offset="0" stop-color="#000" stop-opacity="1"/><stop offset="0.24" stop-color="#000" stop-opacity="1"/><stop offset="0.55" stop-color="#000" stop-opacity="0"/><stop offset="0.79" stop-color="#000" stop-opacity="0"/><stop offset="0.79" stop-color="#000" stop-opacity="1"/><stop offset="1" stop-color="#000" stop-opacity="1"/></linearGradient>
<linearGradient id="g82" gradientUnits="userSpaceOnUse" x1="661.5" y1="0" x2="684.2" y2="0"><stop offset="0" stop-color="#000" stop-opacity="0"/><stop offset="0.11" stop-color="#000" stop-opacity="1"/><stop offset="0.3" stop-color="#000" stop-opacity="1"/><stop offset="0.3" stop-color="#000" stop-opacity="0"/><stop offset="0.7" stop-color="#000" stop-opacity="0"/><stop offset="0.7" stop-color="#000" stop-opacity="0.5"/><stop offset="1" stop-color="#000" stop-opacity="0.5"/></linearGradient>
<linearGradient id="g83" gradientUnits="userSpaceOnUse" x1="719.9" y1="0" x2="738.6" y2="0"><stop offset="0" stop-color="#000" stop-opacity="1"/><stop offset="0.2" stop-color="#000" stop-opacity="1"/><stop offset="0.56" stop-color="#000" stop-opacity="0"/><stop offset="0.83" stop-color="#000" stop-opacity="0"/><stop offset="0.83" stop-color="#000" stop-opacity="1"/><stop offset="1" stop-color="#000" stop-opacity="1"/></linearGradient>
<linearGradient id="g84" gradientUnits="userSpaceOnUse" x1="754.9" y1="0" x2="778" y2="0"><stop offset="0" stop-color="#000" stop-opacity="0.5"/><stop offset="0.29" stop-color="#000" stop-opacity="0.5"/><stop offset="0.29" stop-color="#000" stop-opacity="0"/><stop offset="0.7" stop-color="#000" stop-opacity="0"/><stop offset="0.7" stop-color="#000" stop-opacity="1"/><stop offset="0.89" stop-color="#000" stop-opacity="1"/><stop offset="1" stop-color="#000" stop-opacity="0"/></linearGradient>
<linearGradient id="g85" gradientUnits="userSpaceOnUse" x1="793.6" y1="0" x2="807.4" y2="0"><stop offset="0" stop-color="#000" stop-opacity="1"/><stop offset="0.28" stop-color="#000" stop-opacity="1"/><stop offset="0.28" stop-color="#000" stop-opacity="0.5"/><stop offset="0.99" stop-color="#000" stop-opacity="0.5"/><stop offset="0.99" stop-color="#000" stop-opacity="1"/><stop offset="1" stop-color="#000" stop-opacity="1"/></linearGradient>
<linearGradient id="g86" gradientUnits="userSpaceOnUse" x1="825" y1="0" x2="846.75" y2="0"><stop offset="0" stop-color="#000" stop-opacity="1"/><stop offset="0.25" stop-color="#000" stop-opacity="1"/><stop offset="0.25" stop-color="#000" stop-opacity="0"/><stop offset="0.42" stop-color="#000" stop-opacity="0"/><stop offset="0.69" stop-color="#000" stop-opacity="1"/><stop offset="1" stop-color="#000" stop-opacity="1"/></linearGradient>
<linearGradient id="g87" gradientUnits="userSpaceOnUse" x1="842.5" y1="0" x2="863" y2="0"><stop offset="0" stop-color="#000" stop-opacity="1"/><stop offset="0.21" stop-color="#000" stop-opacity="1"/><stop offset="0.54" stop-color="#000" stop-opacity="0"/><stop offset="0.83" stop-color="#000" stop-opacity="0"/><stop offset="0.83" stop-color="#000" stop-opacity="1"/><stop offset="1" stop-color="#000" stop-opacity="1"/></linearGradient>
<linearGradient id="g88" gradientUnits="userSpaceOnUse" x1="861.25" y1="0" x2="885" y2="0"><stop offset="0" stop-color="#000" stop-opacity="1"/><stop offset="0.19" stop-color="#000" stop-opacity="1"/><stop offset="0.19" stop-color="#000" stop-opacity="0"/><stop offset="0.42" stop-color="#000" stop-opacity="0"/><stop offset="0.69" stop-color="#000" stop-opacity="1"/><stop offset="1" stop-color="#000" stop-opacity="1"/></linearGradient>
<linearGradient id="g89" gradientUnits="userSpaceOnUse" x1="878.75" y1="0" x2="900.7" y2="0"><stop offset="0" stop-color="#000" stop-opacity="1"/><stop offset="0.28" stop-color="#000" stop-opacity="1"/><stop offset="0.28" stop-color="#000" stop-opacity="0"/><stop offset="0.72" stop-color="#000" stop-opacity="0"/><stop offset="0.72" stop-color="#000" stop-opacity="1"/><stop offset="0.9" stop-color="#000" stop-opacity="1"/><stop offset="1" stop-color="#000" stop-opacity="0"/></linearGradient>
<linearGradient id="g90" gradientUnits="userSpaceOnUse" x1="917.6" y1="0" x2="932" y2="0"><stop offset="0" stop-color="#000" stop-opacity="1"/><stop offset="0.26" stop-color="#000" stop-opacity="1"/><stop offset="0.26" stop-color="#000" stop-opacity="0.5"/><stop offset="0.99" stop-color="#000" stop-opacity="0.5"/><stop offset="0.99" stop-color="#000" stop-opacity="1"/><stop offset="1" stop-color="#000" stop-opacity="1"/></linearGradient>
<linearGradient id="g91" gradientUnits="userSpaceOnUse" x1="948.25" y1="0" x2="970.75" y2="0"><stop offset="0" stop-color="#000" stop-opacity="1"/><stop offset="0.17" stop-color="#000" stop-opacity="1"/><stop offset="0.17" stop-color="#000" stop-opacity="0"/><stop offset="0.42" stop-color="#000" stop-opacity="0"/><stop offset="0.72" stop-color="#000" stop-opacity="1"/><stop offset="1" stop-color="#000" stop-opacity="1"/></linearGradient>
<linearGradient id="g92" gradientUnits="userSpaceOnUse" x1="965" y1="0" x2="990.1" y2="0"><stop offset="0" stop-color="#000" stop-opacity="1"/><stop offset="0.23" stop-color="#000" stop-opacity="1"/><stop offset="0.5" stop-color="#000" stop-opacity="0"/><stop offset="0.55" stop-color="#000" stop-opacity="0"/><stop offset="0.55" stop-color="#000" stop-opacity="1"/><stop offset="1" stop-color="#000" stop-opacity="1"/></linearGradient>
<linearGradient id="g93" gradientUnits="userSpaceOnUse" x1="987" y1="0" x2="1005" y2="0"><stop offset="0" stop-color="#000" stop-opacity="1"/><stop offset="0.19" stop-color="#000" stop-opacity="1"/><stop offset="0.19" stop-color="#000" stop-opacity="0"/><stop offset="0.66" stop-color="#000" stop-opacity="0"/><stop offset="0.66" stop-color="#000" stop-opacity="1"/><stop offset="1" stop-color="#000" stop-opacity="1"/></linearGradient>
<linearGradient id="g94" gradientUnits="userSpaceOnUse" x1="1000" y1="0" x2="1025.7" y2="0"><stop offset="0" stop-color="#000" stop-opacity="1"/><stop offset="0.25" stop-color="#000" stop-opacity="1"/><stop offset="0.5" stop-color="#000" stop-opacity="0"/><stop offset="0.74" stop-color="#000" stop-opacity="0"/><stop offset="0.74" stop-color="#000" stop-opacity="1"/><stop offset="0.91" stop-color="#000" stop-opacity="1"/><stop offset="1" stop-color="#000" stop-opacity="0"/></linearGradient>
<linearGradient id="g95" gradientUnits="userSpaceOnUse" x1="1072.4" y1="0" x2="1095" y2="0"><stop offset="0" stop-color="#000" stop-opacity="1"/><stop offset="0.16" stop-color="#000" stop-opacity="1"/><stop offset="0.16" stop-color="#000" stop-opacity="0"/><stop offset="0.36" stop-color="#000" stop-opacity="0"/><stop offset="0.71" stop-color="#000" stop-opacity="1"/><stop offset="1" stop-color="#000" stop-opacity="1"/></linearGradient>
<linearGradient id="g96" gradientUnits="userSpaceOnUse" x1="1088.4" y1="0" x2="1110.3" y2="0"><stop offset="0" stop-color="#000" stop-opacity="1"/><stop offset="0.3" stop-color="#000" stop-opacity="1"/><stop offset="0.6" stop-color="#000" stop-opacity="0"/><stop offset="0.7" stop-color="#000" stop-opacity="0"/><stop offset="0.7" stop-color="#000" stop-opacity="1"/><stop offset="1" stop-color="#000" stop-opacity="1"/></linearGradient>
<linearGradient id="g97" gradientUnits="userSpaceOnUse" x1="1235" y1="0" x2="1255" y2="0"><stop offset="0" stop-color="#000" stop-opacity="1"/><stop offset="0.18" stop-color="#000" stop-opacity="1"/><stop offset="0.18" stop-color="#000" stop-opacity="0"/><stop offset="0.64" stop-color="#000" stop-opacity="0"/><stop offset="0.64" stop-color="#000" stop-opacity="1"/><stop offset="0.85" stop-color="#000" stop-opacity="1"/><stop offset="1" stop-color="#000" stop-opacity="0"/></linearGradient>
<linearGradient id="g98" gradientUnits="userSpaceOnUse" x1="1323.9" y1="0" x2="1339.9" y2="0"><stop offset="0" stop-color="#000" stop-opacity="1"/><stop offset="0.5" stop-color="#000" stop-opacity="1"/><stop offset="0.5" stop-color="#000" stop-opacity="0.5"/><stop offset="0.72" stop-color="#000" stop-opacity="0.5"/><stop offset="0.72" stop-color="#000" stop-opacity="1"/><stop offset="1" stop-color="#000" stop-opacity="1"/></linearGradient>
<linearGradient id="g99" gradientUnits="userSpaceOnUse" x1="1394.6" y1="0" x2="1412.8" y2="0"><stop offset="0" stop-color="#000" stop-opacity="1"/><stop offset="0.2" stop-color="#000" stop-opacity="1"/><stop offset="0.6" stop-color="#000" stop-opacity="0"/><stop offset="0.6" stop-color="#000" stop-opacity="1"/><stop offset="1" stop-color="#000" stop-opacity="1"/></linearGradient>
<linearGradient id="g100" gradientUnits="userSpaceOnUse" x1="1623.1" y1="0" x2="1645" y2="0"><stop offset="0" stop-color="#000" stop-opacity="1"/><stop offset="0.2" stop-color="#000" stop-opacity="1"/><stop offset="0.43" stop-color="#000" stop-opacity="0"/><stop offset="0.53" stop-color="#000" stop-opacity="0"/><stop offset="0.67" stop-color="#000" stop-opacity="1"/><stop offset="1" stop-color="#000" stop-opacity="1"/></linearGradient>
<linearGradient id="g101" gradientUnits="userSpaceOnUse" x1="1785" y1="0" x2="1805" y2="0"><stop offset="0" stop-color="#000" stop-opacity="1"/><stop offset="0.16" stop-color="#000" stop-opacity="1"/><stop offset="0.45" stop-color="#000" stop-opacity="0"/><stop offset="0.55" stop-color="#000" stop-opacity="0"/><stop offset="0.84" stop-color="#000" stop-opacity="1"/><stop offset="1" stop-color="#000" stop-opacity="1"/></linearGradient>
<linearGradient id="g102" gradientUnits="userSpaceOnUse" x1="1819.6" y1="0" x2="1831.7" y2="0"><stop offset="0" stop-color="#000" stop-opacity="0"/><stop offset="0.45" stop-color="#000" stop-opacity="1"/><stop offset="1" stop-color="#000" stop-opacity="1"/></linearGradient>
<linearGradient id="g103" gradientUnits="userSpaceOnUse" x1="0" y1="2643.5" x2="0" y2="2647.5"><stop offset="0" stop-color="#000" stop-opacity="0.62"/><stop offset="0.8" stop-color="#000" stop-opacity="0.55"/><stop offset="1" stop-color="#000" stop-opacity="0"/></linearGradient>
<linearGradient id="g104" gradientUnits="userSpaceOnUse" x1="0" y1="2643.5" x2="0" y2="2647.5"><stop offset="0" stop-color="#000" stop-opacity="0.62"/><stop offset="0.8" stop-color="#000" stop-opacity="0.55"/><stop offset="1" stop-color="#000" stop-opacity="0"/></linearGradient>
<linearGradient id="g105" gradientUnits="userSpaceOnUse" x1="0" y1="2643.5" x2="0" y2="2654.5"><stop offset="0" stop-color="#000" stop-opacity="0.62"/><stop offset="0.8" stop-color="#000" stop-opacity="0.55"/><stop offset="1" stop-color="#000" stop-opacity="0"/></linearGradient>
<linearGradient id="g106" gradientUnits="userSpaceOnUse" x1="0" y1="2643.5" x2="0" y2="2659.5"><stop offset="0" stop-color="#000" stop-opacity="0.62"/><stop offset="0.8" stop-color="#000" stop-opacity="0.55"/><stop offset="1" stop-color="#000" stop-opacity="0"/></linearGradient>
<linearGradient id="g107" gradientUnits="userSpaceOnUse" x1="0" y1="2643.5" x2="0" y2="2654.5"><stop offset="0" stop-color="#000" stop-opacity="0.62"/><stop offset="0.8" stop-color="#000" stop-opacity="0.55"/><stop offset="1" stop-color="#000" stop-opacity="0"/></linearGradient>
<linearGradient id="g108" gradientUnits="userSpaceOnUse" x1="0" y1="2643.5" x2="0" y2="2659.5"><stop offset="0" stop-color="#000" stop-opacity="0.62"/><stop offset="0.8" stop-color="#000" stop-opacity="0.55"/><stop offset="1" stop-color="#000" stop-opacity="0"/></linearGradient>
<linearGradient id="g109" gradientUnits="userSpaceOnUse" x1="0" y1="2643.5" x2="0" y2="2654.5"><stop offset="0" stop-color="#000" stop-opacity="0.62"/><stop offset="0.8" stop-color="#000" stop-opacity="0.55"/><stop offset="1" stop-color="#000" stop-opacity="0"/></linearGradient>
<linearGradient id="g110" gradientUnits="userSpaceOnUse" x1="0" y1="2643.5" x2="0" y2="2659.5"><stop offset="0" stop-color="#000" stop-opacity="0.62"/><stop offset="0.8" stop-color="#000" stop-opacity="0.55"/><stop offset="1" stop-color="#000" stop-opacity="0"/></linearGradient>
<linearGradient id="g111" gradientUnits="userSpaceOnUse" x1="0" y1="2643.5" x2="0" y2="2658.5"><stop offset="0" stop-color="#000" stop-opacity="0.62"/><stop offset="0.8" stop-color="#000" stop-opacity="0.55"/><stop offset="1" stop-color="#000" stop-opacity="0"/></linearGradient>
<linearGradient id="g112" gradientUnits="userSpaceOnUse" x1="0" y1="2643.5" x2="0" y2="2647.5"><stop offset="0" stop-color="#000" stop-opacity="0.62"/><stop offset="0.8" stop-color="#000" stop-opacity="0.55"/><stop offset="1" stop-color="#000" stop-opacity="0"/></linearGradient>
<linearGradient id="g113" gradientUnits="userSpaceOnUse" x1="0" y1="2643.5" x2="0" y2="2647.5"><stop offset="0" stop-color="#000" stop-opacity="0.62"/><stop offset="0.8" stop-color="#000" stop-opacity="0.55"/><stop offset="1" stop-color="#000" stop-opacity="0"/></linearGradient>
<linearGradient id="g114" gradientUnits="userSpaceOnUse" x1="0" y1="2643.5" x2="0" y2="2660.5"><stop offset="0" stop-color="#000" stop-opacity="0.62"/><stop offset="0.8" stop-color="#000" stop-opacity="0.55"/><stop offset="1" stop-color="#000" stop-opacity="0"/></linearGradient>
<linearGradient id="g115" gradientUnits="userSpaceOnUse" x1="0" y1="2643.5" x2="0" y2="2655.5"><stop offset="0" stop-color="#000" stop-opacity="0.62"/><stop offset="0.8" stop-color="#000" stop-opacity="0.55"/><stop offset="1" stop-color="#000" stop-opacity="0"/></linearGradient>
</defs>
<rect x="0" y="0" width="1875" height="2940" fill="#fff"/>
<g filter="url(#soft)">
<rect x="312.9" y="183.75" width="21.7" height="669.75" fill="url(#g1)"/>
<rect x="312.9" y="181" width="21.7" height="5.5" fill="#000"/>
<rect x="329" y="560.25" width="21.3" height="293.25" fill="url(#g2)"/>
<rect x="329" y="557.5" width="21.3" height="5.5" fill="#000"/>
<rect x="359.4" y="539.5" width="7.2" height="90.5" fill="#000" fill-opacity="0.5"/>
<rect x="345.5" y="542.25" width="21.1" height="311.25" fill="url(#g3)"/>
<rect x="345.5" y="539.5" width="21.1" height="5.5" fill="#000"/>
<rect x="362" y="630.25" width="27.4" height="223.25" fill="url(#g4)"/>
<rect x="362" y="627.5" width="27.4" height="5.5" fill="#000"/>
<rect x="382.5" y="414.25" width="19.25" height="439.25" fill="url(#g5)"/>
<rect x="382.5" y="411.5" width="19.25" height="5.5" fill="#000"/>
<rect x="398.75" y="611.75" width="25" height="241.75" fill="url(#g6)"/>
<rect x="398.75" y="609" width="25" height="5.5" fill="#000"/>
<rect x="421" y="460.75" width="12" height="392.75" fill="url(#g7)"/>
<rect x="421" y="458" width="12" height="5.5" fill="#000"/>
<rect x="430" y="602.75" width="25" height="250.75" fill="url(#g8)"/>
<rect x="430" y="600" width="25" height="5.5" fill="#000"/>
<rect x="452.5" y="781.75" width="21.9" height="71.75" fill="url(#g9)"/>
<rect x="452.5" y="779" width="21.9" height="5.5" fill="#000"/>
<rect x="471" y="693.75" width="20" height="159.75" fill="url(#g10)"/>
<rect x="471" y="691" width="20" height="5.5" fill="#000"/>
<rect x="488.15" y="590" width="4.95" height="103" fill="#000" fill-opacity="0.5"/>
<rect x="488.15" y="592.75" width="19.35" height="260.75" fill="url(#g11)"/>
<rect x="488.15" y="590" width="19.35" height="5.5" fill="#000"/>
<rect x="505.5" y="758.75" width="15.4" height="94.75" fill="url(#g12)"/>
<rect x="505.5" y="756" width="15.4" height="5.5" fill="#000"/>
<rect x="537.8" y="630.25" width="20.95" height="223.25" fill="url(#g13)"/>
<rect x="537.8" y="627.5" width="20.95" height="5.5" fill="#000"/>
<rect x="555" y="616.75" width="25.25" height="236.75" fill="url(#g14)"/>
<rect x="555" y="614" width="25.25" height="5.5" fill="#000"/>
<rect x="575.5" y="598.25" width="20" height="255.25" fill="url(#g15)"/>
<rect x="575.5" y="595.5" width="20" height="5.5" fill="#000"/>
<rect x="592.5" y="716.75" width="14.6" height="136.75" fill="url(#g16)"/>
<rect x="592.5" y="714" width="14.6" height="5.5" fill="#000"/>
<rect x="816.4" y="615.75" width="22.6" height="237.75" fill="url(#g17)"/>
<rect x="816.4" y="613" width="22.6" height="5.5" fill="#000"/>
<rect x="281" y="98" width="1500.5" height="6.3" fill="#808080"/>
<rect x="297" y="98" width="3.7" height="759" fill="#000"/>
<rect x="1773.5" y="100" width="8.3" height="757" fill="#000"/>
<rect x="297" y="848.3" width="1484.5" height="13.1" fill="url(#g18)"/>
<rect x="285" y="174.6" width="13" height="2.8" fill="#555"/>
<rect x="281" y="252.6" width="17" height="2.8" fill="#555"/>
<rect x="285" y="322.6" width="13" height="2.8" fill="#555"/>
<rect x="281" y="400.1" width="17" height="2.8" fill="#555"/>
<rect x="285" y="476.6" width="13" height="2.8" fill="#555"/>
<rect x="281" y="551.1" width="17" height="2.8" fill="#555"/>
<rect x="285" y="628.6" width="13" height="2.8" fill="#555"/>
<rect x="281" y="702.1" width="17" height="2.8" fill="#555"/>
<rect x="285" y="780.1" width="13" height="2.8" fill="#555"/>
<rect x="281" y="853.6" width="17" height="2.8" fill="#000"/>
<rect x="471.1" y="856" width="3.8" height="12" fill="url(#g19)"/>
<rect x="556.6" y="856" width="3.8" height="17" fill="url(#g20)"/>
<rect x="905.1" y="856" width="3.8" height="13" fill="url(#g21)"/>
<rect x="991.1" y="856" width="3.8" height="17" fill="url(#g22)"/>
<rect x="1426.1" y="856" width="3.8" height="13" fill="url(#g23)"/>
<rect x="1513.1" y="856" width="3.8" height="17" fill="url(#g24)"/>
<rect x="1774.1" y="856" width="3.8" height="12" fill="url(#g25)"/>
<rect x="324.1" y="1107.75" width="20.1" height="642.25" fill="url(#g26)"/>
<rect x="324.1" y="1105" width="20.1" height="5.5" fill="#000"/>
<rect x="341" y="1461.75" width="20.9" height="288.25" fill="url(#g27)"/>
<rect x="341" y="1459" width="20.9" height="5.5" fill="#000"/>
<rect x="356" y="1453.75" width="21.5" height="296.25" fill="url(#g28)"/>
<rect x="356" y="1451" width="21.5" height="5.5" fill="#000"/>
<rect x="375.5" y="1412.75" width="20.75" height="337.25" fill="url(#g29)"/>
<rect x="375.5" y="1410" width="20.75" height="5.5" fill="#000"/>
<rect x="392.25" y="1553.75" width="20.25" height="196.25" fill="url(#g30)"/>
<rect x="392.25" y="1551" width="20.25" height="5.5" fill="#000"/>
<rect x="410.9" y="1505" width="5.7" height="48" fill="#000" fill-opacity="0.5"/>
<rect x="410.9" y="1507.75" width="21.1" height="242.25" fill="url(#g31)"/>
<rect x="410.9" y="1505" width="21.1" height="5.5" fill="#000"/>
<rect x="425.6" y="1627.75" width="25.65" height="122.25" fill="url(#g32)"/>
<rect x="425.6" y="1625" width="25.65" height="5.5" fill="#000"/>
<rect x="449" y="1430.25" width="11.5" height="319.75" fill="url(#g33)"/>
<rect x="449" y="1427.5" width="11.5" height="5.5" fill="#000"/>
<rect x="460.2" y="1600.75" width="25.5" height="149.25" fill="url(#g34)"/>
<rect x="460.2" y="1598" width="25.5" height="5.5" fill="#000"/>
<rect x="479.75" y="1238.75" width="18.75" height="511.25" fill="url(#g35)"/>
<rect x="479.75" y="1236" width="18.75" height="5.5" fill="#000"/>
<rect x="495.25" y="1627.75" width="25.65" height="122.25" fill="url(#g36)"/>
<rect x="495.25" y="1625" width="25.65" height="5.5" fill="#000"/>
<rect x="517.5" y="1481.75" width="19" height="268.25" fill="url(#g37)"/>
<rect x="517.5" y="1479" width="19" height="5.5" fill="#000"/>
<rect x="534.75" y="1605.25" width="21.15" height="144.75" fill="url(#g38)"/>
<rect x="534.75" y="1602.5" width="21.15" height="5.5" fill="#000"/>
<rect x="552.5" y="1673.75" width="14.6" height="76.25" fill="url(#g39)"/>
<rect x="552.5" y="1671" width="14.6" height="5.5" fill="#000"/>
<rect x="584" y="1567.75" width="22" height="182.25" fill="url(#g40)"/>
<rect x="584" y="1565" width="22" height="5.5" fill="#000"/>
<rect x="601.5" y="1656.75" width="20" height="93.25" fill="url(#g41)"/>
<rect x="601.5" y="1654" width="20" height="5.5" fill="#000"/>
<rect x="620" y="1545.75" width="24.6" height="204.25" fill="url(#g42)"/>
<rect x="620" y="1543" width="24.6" height="5.5" fill="#000"/>
<rect x="642.25" y="1645.25" width="14.25" height="104.75" fill="url(#g43)"/>
<rect x="642.25" y="1642.5" width="14.25" height="5.5" fill="#000"/>
<rect x="673" y="1632.75" width="18.75" height="117.25" fill="url(#g44)"/>
<rect x="673" y="1630" width="18.75" height="5.5" fill="#000"/>
<rect x="707.5" y="1620.25" width="22.95" height="129.75" fill="url(#g45)"/>
<rect x="711" y="1617.5" width="15.75" height="5.5" fill="#000"/>
<rect x="748" y="1606.75" width="13.1" height="143.25" fill="url(#g46)"/>
<rect x="748" y="1604" width="13.1" height="5.5" fill="#000"/>
<rect x="778.6" y="1600.25" width="21.9" height="149.75" fill="url(#g47)"/>
<rect x="778.6" y="1597.5" width="21.9" height="5.5" fill="#000"/>
<rect x="797.5" y="1591.75" width="21.75" height="158.25" fill="url(#g48)"/>
<rect x="797.5" y="1589" width="21.75" height="5.5" fill="#000"/>
<rect x="816" y="1591.75" width="18.9" height="158.25" fill="url(#g49)"/>
<rect x="816" y="1589" width="18.9" height="5.5" fill="#000"/>
<rect x="867" y="1567.75" width="20" height="182.25" fill="url(#g50)"/>
<rect x="867" y="1565" width="18" height="5.5" fill="#000"/>
<rect x="940.5" y="1550.25" width="14" height="199.75" fill="url(#g51)"/>
<rect x="940.5" y="1547.5" width="14" height="5.5" fill="#000"/>
<rect x="952.5" y="1328.75" width="23.1" height="421.25" fill="url(#g52)"/>
<rect x="952.5" y="1326" width="20.1" height="5.5" fill="#000"/>
<rect x="1095.3" y="1495.25" width="19.7" height="254.75" fill="url(#g53)"/>
<rect x="1095.3" y="1492.5" width="19.7" height="5.5" fill="#000"/>
<rect x="1161.4" y="1472.25" width="23.5" height="277.75" fill="url(#g54)"/>
<rect x="1163.9" y="1469.5" width="21" height="5.5" fill="#000"/>
<rect x="1270.3" y="1438.75" width="19" height="311.25" fill="url(#g55)"/>
<rect x="1270.3" y="1436" width="19" height="5.5" fill="#000"/>
<rect x="1536.75" y="1355.75" width="16.25" height="394.25" fill="url(#g56)"/>
<rect x="1536.75" y="1353" width="16.25" height="5.5" fill="#000"/>
<rect x="304.5" y="1018.8" width="1498.5" height="8.6" fill="url(#g57)"/>
<rect x="289" y="1020.3" width="16" height="2.6" fill="#666"/>
<rect x="304.3" y="1021" width="8.3" height="734" fill="#000"/>
<rect x="1796.8" y="1025" width="8" height="730.5" fill="#808080"/>
<rect x="304.5" y="1748.3" width="1496.5" height="7.1" fill="#000"/>
<rect x="294" y="1388.6" width="12" height="2.8" fill="#555"/>
<rect x="289" y="1508.6" width="17" height="2.8" fill="#555"/>
<rect x="297.5" y="1632.6" width="8.5" height="2.8" fill="#555"/>
<rect x="658.45" y="1755" width="3.6" height="16" fill="url(#g58)"/>
<rect x="750.6" y="1755" width="3.6" height="8" fill="url(#g59)"/>
<rect x="836.2" y="1755" width="3.6" height="16" fill="url(#g60)"/>
<rect x="1010.2" y="1755" width="3.6" height="16" fill="url(#g61)"/>
<rect x="1095.7" y="1755" width="3.6" height="10" fill="url(#g62)"/>
<rect x="1270.7" y="1755" width="3.6" height="10" fill="url(#g63)"/>
<rect x="1358.2" y="1755" width="3.6" height="16" fill="url(#g64)"/>
<rect x="328.4" y="1971.75" width="21.2" height="669.25" fill="url(#g65)"/>
<rect x="328.4" y="1969" width="21.2" height="5.5" fill="#000"/>
<rect x="344.4" y="2420.25" width="25" height="220.75" fill="url(#g66)"/>
<rect x="344.4" y="2417.5" width="25" height="5.5" fill="#000"/>
<rect x="363.5" y="2276.25" width="17.75" height="364.75" fill="url(#g67)"/>
<rect x="363.5" y="2273.5" width="17.75" height="5.5" fill="#000"/>
<rect x="376" y="2305.25" width="21.5" height="335.75" fill="url(#g68)"/>
<rect x="376" y="2302.5" width="21.5" height="5.5" fill="#000"/>
<rect x="395.5" y="2355.25" width="24.5" height="285.75" fill="url(#g69)"/>
<rect x="395.5" y="2352.5" width="24.5" height="5.5" fill="#000"/>
<rect x="413.5" y="2226.25" width="23" height="414.75" fill="url(#g70)"/>
<rect x="413.5" y="2223.5" width="23" height="5.5" fill="#000"/>
<rect x="431" y="2360.25" width="22.5" height="280.75" fill="url(#g71)"/>
<rect x="431" y="2357.5" width="22.5" height="5.5" fill="#000"/>
<rect x="450.5" y="2502.75" width="24.5" height="138.25" fill="url(#g72)"/>
<rect x="450.5" y="2500" width="24.5" height="5.5" fill="#000"/>
<rect x="472.25" y="2428.75" width="21.15" height="212.25" fill="url(#g73)"/>
<rect x="472.25" y="2426" width="21.15" height="5.5" fill="#000"/>
<rect x="488.5" y="2585.25" width="21.1" height="55.75" fill="url(#g74)"/>
<rect x="488.5" y="2582.5" width="21.1" height="5.5" fill="#000"/>
<rect x="506.65" y="2254.75" width="15.85" height="386.25" fill="url(#g75)"/>
<rect x="506.65" y="2252" width="15.85" height="5.5" fill="#000"/>
<rect x="519.75" y="2433.75" width="24.25" height="207.25" fill="url(#g76)"/>
<rect x="519.75" y="2431" width="24.25" height="5.5" fill="#000"/>
<rect x="539.75" y="2411.75" width="23.65" height="229.25" fill="url(#g77)"/>
<rect x="539.75" y="2409" width="23.65" height="5.5" fill="#000"/>
<rect x="557" y="2395.25" width="19.5" height="245.75" fill="url(#g78)"/>
<rect x="557" y="2392.5" width="19.5" height="5.5" fill="#000"/>
<rect x="596" y="2457.75" width="21.75" height="183.25" fill="url(#g79)"/>
<rect x="596" y="2455" width="21.75" height="5.5" fill="#000"/>
<rect x="627.4" y="2342.5" width="6.2" height="87.5" fill="#000" fill-opacity="0.5"/>
<rect x="614.75" y="2345.25" width="18.85" height="295.75" fill="url(#g80)"/>
<rect x="614.75" y="2342.5" width="18.85" height="5.5" fill="#000"/>
<rect x="630.25" y="2430.25" width="21.25" height="210.75" fill="url(#g81)"/>
<rect x="630.25" y="2427.5" width="21.25" height="5.5" fill="#000"/>
<rect x="661.5" y="2412.25" width="22.7" height="228.75" fill="url(#g82)"/>
<rect x="664" y="2409.5" width="20.2" height="5.5" fill="#000"/>
<rect x="719.9" y="2379.75" width="18.7" height="261.25" fill="url(#g83)"/>
<rect x="719.9" y="2377" width="18.7" height="5.5" fill="#000"/>
<rect x="754.9" y="2496.75" width="23.1" height="144.25" fill="url(#g84)"/>
<rect x="754.9" y="2494" width="20.6" height="5.5" fill="#000"/>
<rect x="793.6" y="2480.25" width="13.8" height="160.75" fill="url(#g85)"/>
<rect x="793.6" y="2477.5" width="13.8" height="5.5" fill="#000"/>
<rect x="825" y="2476.75" width="21.75" height="164.25" fill="url(#g86)"/>
<rect x="825" y="2474" width="21.75" height="5.5" fill="#000"/>
<rect x="842.5" y="2295.25" width="20.5" height="345.75" fill="url(#g87)"/>
<rect x="842.5" y="2292.5" width="20.5" height="5.5" fill="#000"/>
<rect x="861.25" y="2467.25" width="23.75" height="173.75" fill="url(#g88)"/>
<rect x="861.25" y="2464.5" width="23.75" height="5.5" fill="#000"/>
<rect x="878.75" y="2458.75" width="21.95" height="182.25" fill="url(#g89)"/>
<rect x="878.75" y="2456" width="19.75" height="5.5" fill="#000"/>
<rect x="917.6" y="2248.75" width="14.4" height="392.25" fill="url(#g90)"/>
<rect x="917.6" y="2246" width="14.4" height="5.5" fill="#000"/>
<rect x="948.25" y="2433.75" width="22.5" height="207.25" fill="url(#g91)"/>
<rect x="948.25" y="2431" width="22.5" height="5.5" fill="#000"/>
<rect x="965" y="2429.75" width="25.1" height="211.25" fill="url(#g92)"/>
<rect x="965" y="2427" width="25.1" height="5.5" fill="#000"/>
<rect x="987" y="2198.75" width="18" height="442.25" fill="url(#g93)"/>
<rect x="987" y="2196" width="18" height="5.5" fill="#000"/>
<rect x="1000" y="2416.75" width="25.7" height="224.25" fill="url(#g94)"/>
<rect x="1000" y="2414" width="23.5" height="5.5" fill="#000"/>
<rect x="1072.4" y="2143.75" width="22.6" height="497.25" fill="url(#g95)"/>
<rect x="1072.4" y="2141" width="22.6" height="5.5" fill="#000"/>
<rect x="1088.4" y="2136.25" width="21.9" height="504.75" fill="url(#g96)"/>
<rect x="1088.4" y="2133.5" width="21.9" height="5.5" fill="#000"/>
<rect x="1235" y="2336.75" width="20" height="304.25" fill="url(#g97)"/>
<rect x="1235" y="2334" width="17" height="5.5" fill="#000"/>
<rect x="1323.9" y="2308.75" width="16" height="332.25" fill="url(#g98)"/>
<rect x="1323.9" y="2306" width="16" height="5.5" fill="#000"/>
<rect x="1394.6" y="2292.75" width="18.2" height="348.25" fill="url(#g99)"/>
<rect x="1394.6" y="2290" width="18.2" height="5.5" fill="#000"/>
<rect x="1623.1" y="2212.75" width="21.9" height="428.25" fill="url(#g100)"/>
<rect x="1623.1" y="2210" width="21.9" height="5.5" fill="#000"/>
<rect x="1785" y="2162.25" width="20" height="478.75" fill="url(#g101)"/>
<rect x="1785" y="2159.5" width="20" height="5.5" fill="#000"/>
<rect x="309" y="1918.3" width="1522.7" height="4.4" fill="#0a0a0a"/>
<rect x="297" y="1919.3" width="12" height="2.7" fill="#777"/>
<rect x="308.4" y="1918.3" width="8.3" height="725.9" fill="#000"/>
<rect x="1819.6" y="1918.3" width="12.1" height="725.9" fill="url(#g102)"/>
<rect x="308.4" y="2639.6" width="1523.3" height="4.6" fill="#000"/>
<rect x="301" y="2101.2" width="9" height="2.8" fill="#555"/>
<rect x="397.6" y="2643.5" width="3.6" height="4" fill="url(#g103)"/>
<rect x="489.7" y="2643.5" width="3.6" height="4" fill="url(#g104)"/>
<rect x="579.7" y="2643.5" width="3.6" height="11" fill="url(#g105)"/>
<rect x="665.4" y="2643.5" width="3.6" height="16" fill="url(#g106)"/>
<rect x="758.2" y="2643.5" width="3.6" height="11" fill="url(#g107)"/>
<rect x="843.45" y="2643.5" width="3.6" height="16" fill="url(#g108)"/>
<rect x="928.7" y="2643.5" width="3.6" height="11" fill="url(#g109)"/>
<rect x="1022.1" y="2643.5" width="3.6" height="16" fill="url(#g110)"/>
<rect x="1378.2" y="2643.5" width="3.6" height="15" fill="url(#g111)"/>
<rect x="1467.9" y="2643.5" width="3.6" height="4" fill="url(#g112)"/>
<rect x="1556.7" y="2643.5" width="3.6" height="4" fill="url(#g113)"/>
<rect x="1735.2" y="2643.5" width="3.6" height="17" fill="url(#g114)"/>
<rect x="1820.4" y="2643.5" width="3.6" height="12" fill="url(#g115)"/>

</g>
<g filter="url(#softt)">
<text transform="translate(250 122.5)" font-size="65" text-anchor="end">1</text>
<text transform="translate(250 274.5)" font-size="65" text-anchor="end">0.8</text>
<text transform="translate(250 426.6) scale(1.0 1.03)" font-size="65" text-anchor="end">0.6</text>
<text transform="translate(250 573.8) scale(1.0 1.065)" font-size="65" text-anchor="end">0.4</text>
<text transform="translate(250 726.4) scale(1.0 1.05)" font-size="65" text-anchor="end">0.2</text>
<text transform="translate(250 879) scale(1.0 1.06)" font-size="65" text-anchor="end">0</text>
<text transform="translate(306.5 972.3) scale(1.0 1.04)" font-size="67" text-anchor="middle">0</text>
<text transform="translate(655.5 972.3) scale(1.0 1.04)" font-size="67" text-anchor="middle">120</text>
<text transform="translate(1001.5 972.3) scale(1.0 1.04)" font-size="67" text-anchor="middle">240</text>
<text transform="translate(1350.5 972.3) scale(1.0 1.04)" font-size="67" text-anchor="middle">360</text>
<text transform="translate(1699.5 972.3) scale(1.0 1.04)" font-size="67" text-anchor="middle">480</text>
<text transform="translate(1650.5 208.5) scale(1.0 1.085)" font-size="66" text-anchor="middle">308 K</text>
<text transform="translate(261 1048.5) scale(1.0 1.065)" font-size="65" text-anchor="end">0.6</text>
<text transform="translate(261 1291.5)" font-size="65" text-anchor="end">0.4</text>
<text transform="translate(261 1530.5)" font-size="65" text-anchor="end">0.2</text>
<text transform="translate(261 1774.5)" font-size="65" text-anchor="end">0</text>
<text transform="translate(317.5 1868.5) scale(1.0 1.04)" font-size="67" text-anchor="middle">0</text>
<text transform="translate(667.5 1868.5) scale(1.0 1.04)" font-size="67" text-anchor="middle">120</text>
<text transform="translate(1017 1868.5) scale(1.0 1.04)" font-size="67" text-anchor="middle">240</text>
<text transform="translate(1368 1868.5) scale(1.0 1.04)" font-size="67" text-anchor="middle">360</text>
<text transform="translate(1719 1868.5) scale(1.0 1.04)" font-size="67" text-anchor="middle">480</text>
<text transform="translate(1664.5 1139.7)" font-size="66" text-anchor="middle">373 K</text>
<text transform="translate(265 1945) scale(1.0 1.065)" font-size="65" text-anchor="end">0.4</text>
<text transform="translate(265 2304.5) scale(1.0 1.03)" font-size="65" text-anchor="end">0.2</text>
<text transform="translate(265 2663) scale(1.0 1.03)" font-size="65" text-anchor="end">0</text>
<text transform="translate(321.5 2757.2) scale(1.0 1.03)" font-size="65.5" text-anchor="middle">0</text>
<text transform="translate(676 2757.2) scale(1.0 1.03)" font-size="65.5" text-anchor="middle">120</text>
<text transform="translate(1031.5 2757.2) scale(1.0 1.03)" font-size="65.5" text-anchor="middle">240</text>
<text transform="translate(1387 2757.2) scale(1.0 1.03)" font-size="65.5" text-anchor="middle">360</text>
<text transform="translate(1746 2757.2) scale(1.0 1.03)" font-size="65.5" text-anchor="middle">480</text>
<text transform="translate(1704.5 2031.7) scale(1.0 1.02)" font-size="66" text-anchor="middle">405 K</text>
<text transform="translate(78.5 563) rotate(-90)" font-size="68" text-anchor="start"><tspan font-size="68" textLength="45.9" lengthAdjust="spacingAndGlyphs">ρ</tspan><tspan font-size="62" dy="6" dx="1" textLength="27.8" lengthAdjust="spacingAndGlyphs">v</tspan><tspan dy="-6" dx="1.5">(</tspan><tspan dx="2.2">V</tspan><tspan dx="2.5">)</tspan></text>
<text transform="translate(88 1474.5) rotate(-90)" font-size="68" text-anchor="start"><tspan font-size="68" textLength="45.9" lengthAdjust="spacingAndGlyphs">ρ</tspan><tspan font-size="62" dy="6" dx="1" textLength="27.8" lengthAdjust="spacingAndGlyphs">v</tspan><tspan dy="-6" dx="1.5">(</tspan><tspan dx="2.2">V</tspan><tspan dx="2.5">)</tspan></text>
<text transform="translate(116 2368) rotate(-90)" font-size="68" text-anchor="start"><tspan font-size="68" textLength="45.9" lengthAdjust="spacingAndGlyphs">ρ</tspan><tspan font-size="62" dy="6" dx="1" textLength="27.8" lengthAdjust="spacingAndGlyphs">v</tspan><tspan dy="-6" dx="1.5">(</tspan><tspan dx="0.8">V</tspan><tspan dx="1.5">)</tspan></text>
<text transform="translate(0 2867.5) scale(1 1.045)" font-size="67" text-anchor="start"><tspan x="572.4" letter-spacing="-0.28">Accessible</tspan> <tspan x="942" letter-spacing="0.8">cluster</tspan> <tspan x="1185.3">volume</tspan> <tspan x="1441.2">(</tspan><tspan x="1466.5">Å</tspan><tspan x="1509" dy="-33.5" font-size="46" style="font-weight:normal">3</tspan><tspan x="1536.5" dy="33.5">)</tspan></text>
</g>
</svg>
</body>
</html>
